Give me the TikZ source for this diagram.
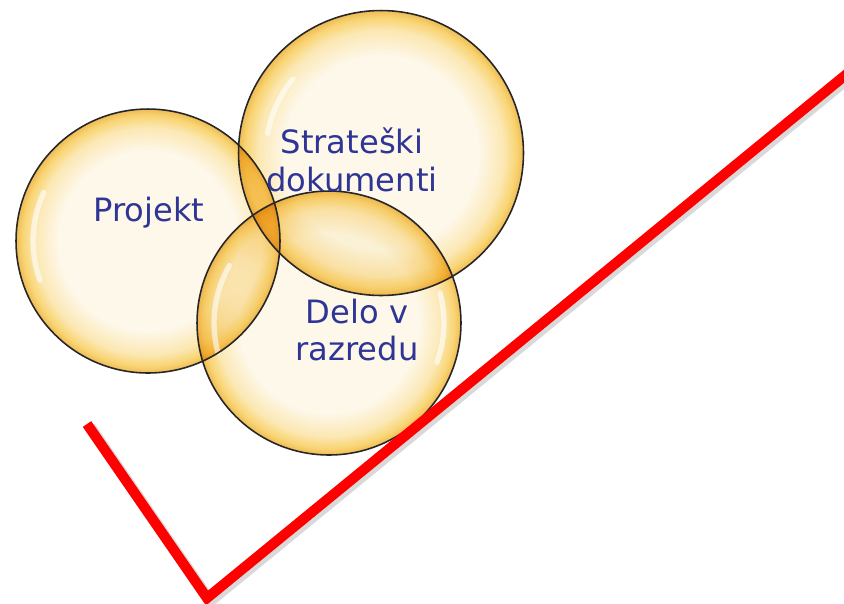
\documentclass[tikz,border=0pt]{standalone}
\usepackage{fontspec}
\setmainfont{DejaVu Sans}
\usepackage{xcolor}
\usepackage{tikz}
\usetikzlibrary{shapes.geometric, positioning, calc, shadings}
\definecolor{bubblecream}{HTML}{FDF6E4}
\definecolor{bubblegold}{HTML}{F7C94E}
\definecolor{bubbledeep}{HTML}{EAAA2C}
\definecolor{labelnavy}{HTML}{2E3596}
\definecolor{checkred}{HTML}{FF0000}

\pgfdeclareradialshading{bubbleshade}{\pgfpoint{0bp}{0bp}}{%
  color(0bp)=(bubblecream); color(17bp)=(bubblecream);
  color(21.5bp)=(bubblegold!45!bubblecream); color(23.8bp)=(bubblegold);
  color(25bp)=(bubbledeep); color(50bp)=(bubbledeep)}

\tikzset{
  bubble/.style={circle, inner sep=0pt, outer sep=0pt, shading=bubbleshade,
    blend mode=multiply, fill opacity=0.8},
  rim/.style={draw=black!85, line width=0.9pt},
  glint/.style={white, opacity=0.6, line width=3pt, line cap=round},
  bubbletext/.style={text=labelnavy, align=center, font=\fontsize{18.3}{21.5}\selectfont},
  checkline/.style={checkred, line width=5.8pt, line join=miter},
}

\begin{document}
\begin{tikzpicture}[x=0.02cm, y=-0.02cm]
    \useasboundingbox (0,0) rectangle (844,603);
    % three bubbles (pixel grid of the reference, y downwards)
    \node[bubble, minimum size=5.28cm] (projekt) at (148,241) {};
    \node[bubble, minimum size=5.70cm] (strateski) at (381,153) {};
    \node[bubble, minimum size=5.28cm] (delo) at (329,323) {};
    % light glints on the rims
    \foreach \b/\a/\e in {projekt/155/200, strateski/140/170, delo/150/195, delo/-20/15} {
      \draw[glint] (\b.center) ++(\a:2.3cm) arc[start angle=\a, end angle=\e, radius=2.3cm];
    }
    % dark outlines on top of all fills
    \foreach \b/\r in {projekt/2.64cm, strateski/2.85cm, delo/2.64cm} {
      \draw[rim] (\b.center) circle[radius=\r];
    }
    % labels
    \node[bubbletext] (projekttxt) at (149,213) {Projekt};
    \node[bubbletext] (strateskitxt) at (352,160) {Strateški\\dokumenti};
    \node[bubbletext] (delotxt) at (357,330) {Delo v\\razredu};
    % check mark
    \coordinate (chkstart) at (87,424);
    \coordinate (chkbottom) at (207,598);
    \coordinate (chkend) at (848,73);
    \draw[checkline, black, opacity=0.15, line width=6.5pt] ($(chkstart)+(3,3)$) -- ($(chkbottom)+(3,3)$) -- ($(chkend)+(3,3)$);
    \draw[checkline] (chkstart) -- (chkbottom) -- (chkend);
\end{tikzpicture}
\end{document}
